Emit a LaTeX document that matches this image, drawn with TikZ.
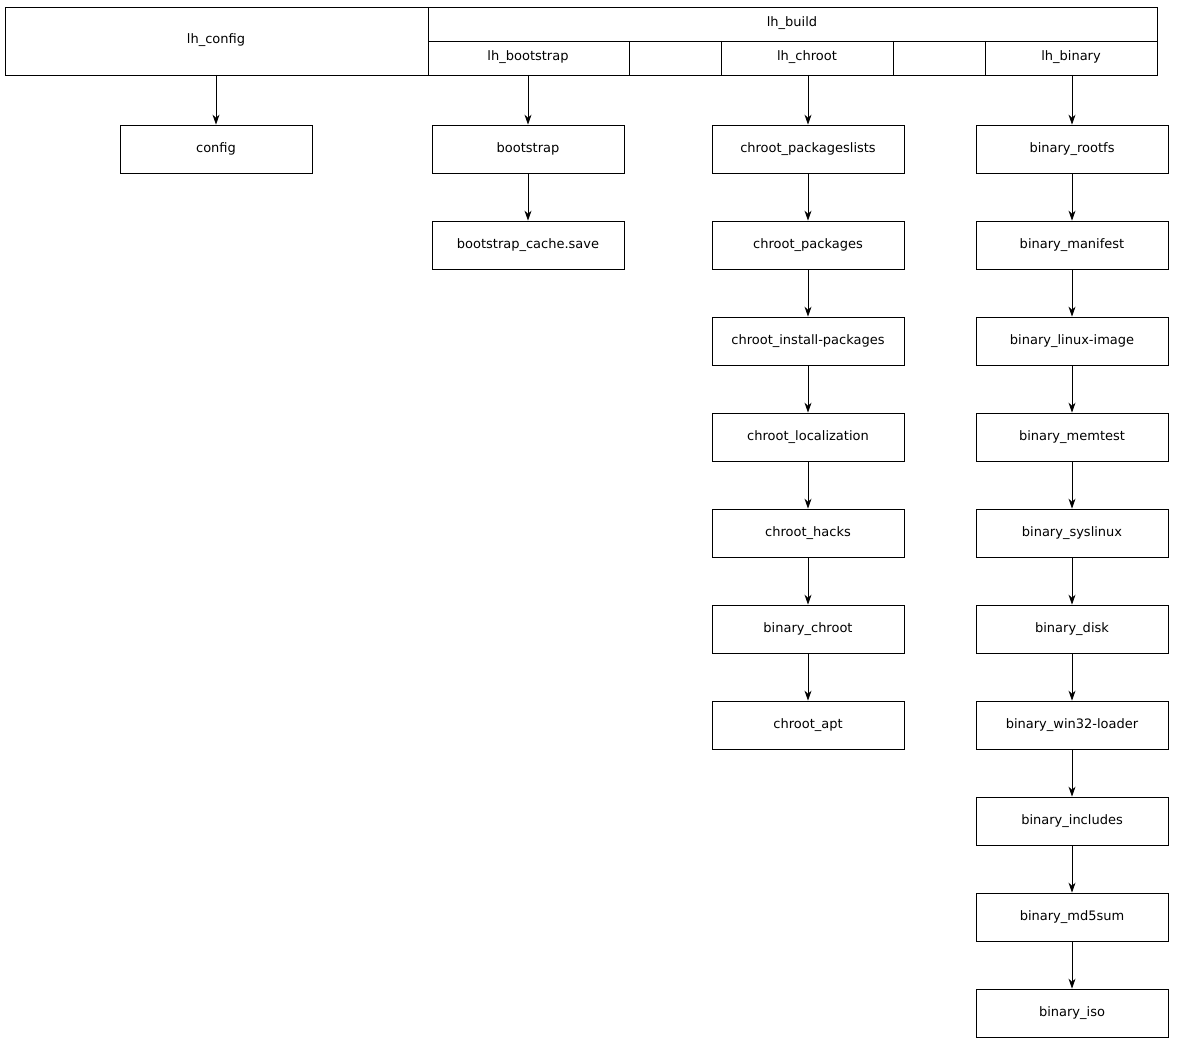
\documentclass[tikz,border=0pt]{standalone}
\usepackage{fontspec}
\setmainfont{DejaVu Sans}
\usetikzlibrary{arrows.meta}
\begin{document}
\begin{tikzpicture}[x=1pt,y=-1pt,
  box/.style={draw,line width=0.8pt,minimum width=192pt,minimum height=48pt,inner xsep=10pt,font=\fontsize{13}{15}\selectfont},
  lbl/.style={font=\fontsize{13}{15}\selectfont},
  arr/.style={line width=0.8pt,-{Stealth[length=10pt,width=7pt]}}]
\useasboundingbox (0,0) rectangle (1183,1043);
% record
\draw[line width=0.8pt] (5,7) rectangle (1157,75);
\draw[line width=0.8pt] (428,7) -- (428,75) (428,41) -- (1157,41);
\draw[line width=0.8pt] (629,41) -- (629,75) (721,41) -- (721,75) (893,41) -- (893,75) (985,41) -- (985,75);
\node[lbl] (lhconfig) at (216,40) {lh\_config};
\node[lbl] (lhbuild) at (792,23) {lh\_build};
\node[lbl] (lhbootstrap) at (528,57) {lh\_bootstrap};
\node[lbl] (lhchroot) at (807,57) {lh\_chroot};
\node[lbl] (lhbinary) at (1071,57) {lh\_binary};
\coordinate (pc) at (216,75);
\coordinate (pb) at (528,75);
\coordinate (pr) at (808,75);
\coordinate (pn) at (1072,75);
% nodes
\node[box] (config) at (216,149) {config};
\node[box] (bootstrap) at (528,149) {bootstrap};
\node[box] (bcache) at (528,245) {bootstrap\_cache.save};
\foreach \n/\t/\y in {c1/chroot\_packageslists/149,c2/chroot\_packages/245,c3/chroot\_install-packages/341,c4/chroot\_localization/437,c5/chroot\_hacks/533,c6/binary\_chroot/629,c7/chroot\_apt/725}
  \node[box] (\n) at (808,\y) {\t};
\foreach \n/\t/\y in {b1/binary\_rootfs/149,b2/binary\_manifest/245,b3/binary\_linux-image/341,b4/binary\_memtest/437,b5/binary\_syslinux/533,b6/binary\_disk/629,b7/binary\_win32-loader/725,b8/binary\_includes/821,b9/binary\_md5sum/917,b10/binary\_iso/1013}
  \node[box] (\n) at (1072,\y) {\t};
% edges
\draw[arr] (pc) -- (config);
\draw[arr] (pb) -- (bootstrap);
\draw[arr] (bootstrap) -- (bcache);
\draw[arr] (pr) -- (c1);
\draw[arr] (pn) -- (b1);
\foreach \a/\b in {c1/c2,c2/c3,c3/c4,c4/c5,c5/c6,c6/c7,b1/b2,b2/b3,b3/b4,b4/b5,b5/b6,b6/b7,b7/b8,b8/b9,b9/b10}
  \draw[arr] (\a) -- (\b);
\end{tikzpicture}
\end{document}
